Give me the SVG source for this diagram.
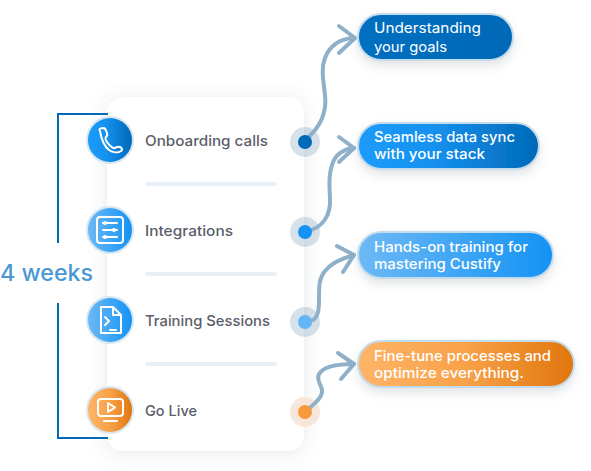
<svg xmlns="http://www.w3.org/2000/svg" width="591" height="471" viewBox="0 0 591 471">
<style>
.t{font-family:"Inter","Open Sans","Liberation Sans",sans-serif}
.lab{font-size:14.500px;font-weight:500;fill:#5b5d6b}
.pt{font-size:14.500px;font-weight:400;fill:#fff}
.pb{font-size:14.500px;font-weight:500;fill:#fff}
.div{fill:#e9eff6}
.br{fill:none;stroke:#0069b8;stroke-width:2}
.ar{fill:none;stroke:#8fb0c9;stroke-width:4;stroke-linecap:round;stroke-linejoin:round}
.ring{fill:#d6e6f2}
.halo{fill:#7b9db8;opacity:.3}
.pill{stroke:#c4dbec;stroke-width:2;filter:url(#ps)}
.ic{fill:none;stroke:#fff;stroke-width:2;stroke-linecap:round;stroke-linejoin:round}
</style>
<defs>
<filter id="cs" x="-20%" y="-10%" width="140%" height="120%"><feDropShadow dx="0" dy="2" stdDeviation="9" flood-color="#5a6a7a" flood-opacity=".16"/></filter>
<filter id="ps" x="-15%" y="-30%" width="130%" height="170%"><feDropShadow dx="0" dy="5" stdDeviation="5" flood-color="#5a6a7a" flood-opacity=".18"/></filter>
<linearGradient id="gd"><stop offset="0" stop-color="#1c9bfa"/><stop offset=".4" stop-color="#1592f0"/><stop offset="1" stop-color="#0069b8"/></linearGradient>
<linearGradient id="gb"><stop offset="0" stop-color="#6db9f5"/><stop offset="1" stop-color="#1493f5"/></linearGradient>
<linearGradient id="go"><stop offset="0" stop-color="#fdb567"/><stop offset=".5" stop-color="#f8a149"/><stop offset="1" stop-color="#e0760c"/></linearGradient>
<linearGradient id="gs"><stop offset="0" stop-color="#016fc0"/><stop offset="1" stop-color="#0069b8"/></linearGradient>
</defs>
<g id="card"><rect x="107" y="97" width="197" height="354" rx="16" fill="#fff" filter="url(#cs)"/></g>
<g id="dividers">
<rect class="div" x="145" y="182" width="132" height="4" rx="2"/>
<rect class="div" x="145" y="272" width="132" height="4" rx="2"/>
<rect class="div" x="145" y="362" width="132" height="4" rx="2"/>
</g>
<g id="bracket">
<path class="br" d="M58 243V114H108"/>
<path class="br" d="M58 303V438H108"/>
<text class="t" x="0" y="281" font-size="22.500" font-weight="500" fill="#4a98d3" textLength="93" lengthAdjust="spacingAndGlyphs">4 weeks</text>
</g>
<g id="node-onboarding">
<circle class="ring" cx="110" cy="140" r="24"/><circle cx="110" cy="140" r="22" fill="url(#gd)"/>
<path class="ic" transform="translate(-1 -1)" d="M101 132C99 129 103 129 105 129C107 130 109 136 108 137C106 138 106 140 108 143C110 146 114 150 116 149C118 148 119 147 121 148C123 149 124 151 122 152C119 154 114 154 110 151C105 147 102 138 101 132Z"/>
<text class="t lab" x="145" y="146" textLength="123" lengthAdjust="spacingAndGlyphs">Onboarding calls</text>
<circle class="halo" cx="305" cy="142" r="15"/>
</g>
<g id="node-integrations">
<circle class="ring" cx="110" cy="230" r="24"/><circle cx="110" cy="230" r="22" fill="url(#gb)"/>
<g transform="translate(-1 -1)">
<rect class="ic" x="98" y="218" width="26" height="26" rx="3"/>
<path class="ic" d="M104 224H118M104 231H118M104 238H118" stroke-width="1.500"/>
<circle cx="106" cy="224" r="2" fill="#fff"/><circle cx="115" cy="231" r="2" fill="#fff"/><circle cx="106" cy="238" r="2" fill="#fff"/>
</g>
<text class="t lab" x="145" y="236" textLength="88" lengthAdjust="spacingAndGlyphs">Integrations</text>
<circle class="halo" cx="305" cy="232" r="15"/>
</g>
<g id="node-training">
<circle class="ring" cx="110" cy="320" r="24"/><circle cx="110" cy="320" r="22" fill="url(#gb)"/>
<g transform="translate(-1 -1)">
<path class="ic" d="M102 308H114L122 316V334H102ZM114 308V316H122"/>
<path class="ic" d="M106 318L110 322L106 326M111 331H117"/>
</g>
<text class="t lab" x="145" y="326" textLength="125" lengthAdjust="spacingAndGlyphs">Training Sessions</text>
<circle class="halo" cx="305" cy="322" r="15"/>
</g>
<g id="node-golive">
<circle class="ring" cx="110" cy="410" r="24"/><circle cx="110" cy="410" r="22" fill="url(#go)"/>
<g transform="translate(-1 -1)">
<rect class="ic" x="99" y="400" width="25" height="17" rx="3"/>
<path class="ic" d="M109 404L116 408.500L109 413ZM105 422H118"/>
</g>
<text class="t lab" x="145" y="416" textLength="52" lengthAdjust="spacingAndGlyphs">Go Live</text>
<circle cx="305" cy="412" r="15" fill="#f7e6da"/>
</g>
<g id="connectors">
<path class="ar" d="M305 140C320 128 327 112 325 95C323 78 321 68 325 58C330 45 340 39 353 38"/>
<path class="ar" d="M339 26L355 38L339 53"/>
<path class="ar" d="M305 232C324 228 331 214 330 198C329 182 329 172 333 162C337 153 344 149 354 148"/>
<path class="ar" d="M339 137L354 148L339 162"/>
<path class="ar" d="M305 322C318 322 319 312 319 300C319 285 319 278 325 271C332 262 343 258 354 255"/>
<path class="ar" d="M337 246L354 255L343 272"/>
<path class="ar" d="M305 412C317 402 323 396 322 390C321 384 316 380 319 374C323 367 336 364 354 364"/>
<path class="ar" d="M338 353L354 364L341 379"/>
</g>
<g id="dots">
<circle cx="305" cy="142" r="7" fill="#0069b8"/>
<circle cx="305" cy="232" r="7" fill="#1493f5"/>
<circle cx="305" cy="322" r="7" fill="#64b5f6"/>
<circle cx="305" cy="412" r="7" fill="#f89a3c"/>
</g>
<g id="pill-1">
<rect class="pill" x="358" y="14" width="155" height="46" rx="23" fill="url(#gs)"/>
<text class="t pt" x="374" y="33" textLength="107" lengthAdjust="spacingAndGlyphs">Understanding</text>
<text class="t pt" x="374" y="52" textLength="73" lengthAdjust="spacingAndGlyphs">your goals</text>
</g>
<g id="pill-2">
<rect class="pill" x="358" y="123" width="181" height="46" rx="23" fill="url(#gd)"/>
<text class="t pb" x="374" y="142" textLength="141" lengthAdjust="spacingAndGlyphs">Seamless data sync</text>
<text class="t pb" x="374" y="159" textLength="111" lengthAdjust="spacingAndGlyphs">with your stack</text>
</g>
<g id="pill-3">
<rect class="pill" x="358" y="232" width="195" height="46" rx="23" fill="url(#gb)"/>
<text class="t pb" x="374" y="252" textLength="154" lengthAdjust="spacingAndGlyphs">Hands-on training for</text>
<text class="t pb" x="374" y="269" textLength="127" lengthAdjust="spacingAndGlyphs">mastering Custify</text>
</g>
<g id="pill-4">
<rect class="pill" x="358" y="341" width="216" height="46" rx="23" fill="url(#go)"/>
<text class="t pb" x="374" y="361" textLength="177" lengthAdjust="spacingAndGlyphs">Fine-tune processes and</text>
<text class="t pb" x="374" y="378" textLength="150" lengthAdjust="spacingAndGlyphs">optimize everything.</text>
</g>
</svg>
